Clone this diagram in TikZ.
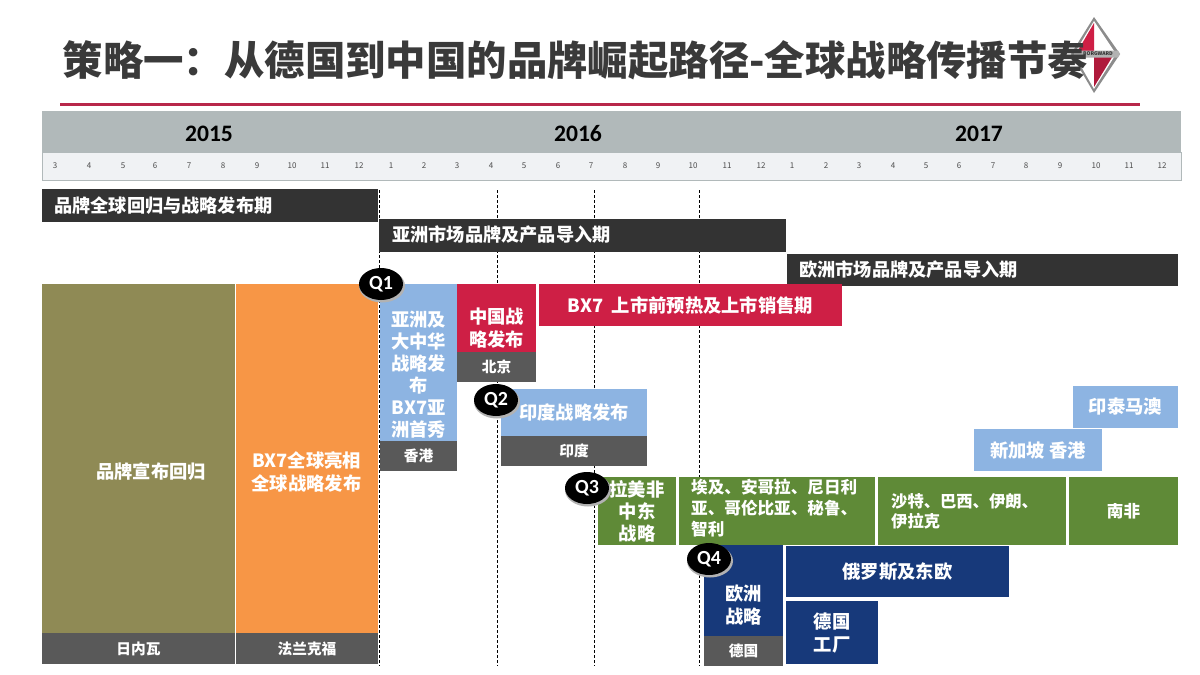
\documentclass[tikz,border=0pt]{standalone}
\usepackage{fontspec}
\setmainfont{Noto Sans CJK SC}
\newfontfamily\latinbold[Scale=1]{Carlito}
\definecolor{darkbar}{HTML}{333333}
\definecolor{footgrey}{HTML}{595959}
\definecolor{olive}{HTML}{8F8A55}
\definecolor{orangebox}{HTML}{F79646}
\definecolor{bluebox}{HTML}{8DB4E2}
\definecolor{crimson}{HTML}{CE1F45}
\definecolor{greenbox}{HTML}{5F8A37}
\definecolor{navybox}{HTML}{17397A}
\definecolor{yearband}{HTML}{B1B9BA}
\definecolor{monthband}{HTML}{F0F2F4}
\definecolor{rulered}{HTML}{B8274A}
\definecolor{titlegrey}{HTML}{3A3A3A}
\tikzset{
  box/.style={inner sep=0pt,text=white,font=\fontsize{18.3}{23}\selectfont\bfseries,align=center},
  foot/.style={box,fill=footgrey,font=\fontsize{14.7}{18}\selectfont\bfseries},
  barlabel/.style={text=white,font=\fontsize{18.2}{20}\selectfont\bfseries,anchor=west,inner sep=0pt},
  green/.style={box,fill=greenbox,font=\fontsize{16.6}{21}\selectfont\bfseries},
  month/.style={font=\fontsize{8}{9}\selectfont,text=black!70,inner sep=0pt},
  year/.style={font=\latinbold\fontsize{23.6}{24}\selectfont\bfseries,text=black,inner sep=0pt,anchor=base},
  qmark/.style={ellipse,fill=black,minimum width=44pt,minimum height=32pt,inner sep=0pt,text=white,font=\latinbold\fontsize{20}{20}\selectfont\bfseries},
  qshadow/.style={ellipse,fill=black!30,minimum width=46pt,minimum height=33pt,inner sep=0pt},
  guide/.style={densely dashed,line width=1pt,black}
}
\usetikzlibrary{shapes.geometric}
% name, x0, y0, x1, y1, style, dy, text
\newcommand{\bx}[8]{%
  \path[#6] (#2,#3) rectangle (#4,#5);
  \node[#6,fill=none,draw=none,inner sep=0pt] (#1) at ({(#2+#4)/2},{(#3+#5)/2+#7}) {#8};}
\begin{document}
\begin{tikzpicture}[x=1pt,y=-1pt]
\useasboundingbox (0,0) rectangle (1200,675);
\fill[white] (0,0) rectangle (1200,675);
\fill[rulered] (60,102.5) rectangle (1140,105.5);
% logo
\fill[black!45] (1094,17) -- (1120,54) -- (1094,93) -- (1071,54) -- cycle;
\fill[white] (1094,21) -- (1116,54) -- (1094,89) -- (1074,54) -- cycle;
\fill[crimson] (1094,23) -- (1094,54) -- (1076,54) -- cycle;
\fill[crimson!85!black] (1094,87) -- (1094,54) -- (1114,54) -- cycle;
\fill[black!30] (1074,50.5) -- (1118,50.5) -- (1120,54) -- (1118,57.5) -- (1074,57.5) -- cycle;
\node[inner sep=0pt,text=black!80,font=\fontsize{5}{6}\selectfont\bfseries] (logotext) at (1098,54) {BORGWARD};
% title
\node[anchor=west,inner sep=0pt,text=titlegrey,font=\fontsize{40.4}{44}\selectfont\bfseries] (title) at (62.5,60) {策略一：从德国到中国的品牌崛起路径-全球战略传播节奏};
% header
\fill[yearband] (42,111) rectangle (1181,152);
\draw[yearband,line width=1pt,fill=monthband] (42,152) rectangle (1181,180);
\node[year] (y15) at (209,141) {2015};
\node[year] (y16) at (578,141) {2016};
\node[year] (y17) at (979,141) {2017};
\foreach \x/\m [count=\i] in {55/3,89/4,123/5,155/6,189/7,223/8,257/9,292/10,325/11,359/12,391/1,424/2,457/3,491/4,524/5,558/6,591/7,625/8,658/9,693/10,727/11,761/12,792/1,826/2,859/3,893/4,926/5,959/6,993/7,1026/8,1060/9,1096/10,1129/11,1162/12}
  \node[month] (m\i) at (\x,166) {\m};
% guides
\foreach \x/\n in {379/a,497/b,594/c,699/d}{
  \coordinate (top\n) at (\x,190);
  \coordinate (bot\n) at (\x,666);
  \draw[guide] (top\n) -- (bot\n);
}
% phase bars
\fill[darkbar] (42,189) rectangle (378,222);
\node[barlabel] (p1) at (54,206) {品牌全球回归与战略发布期};
\fill[darkbar] (379,219) rectangle (786,252);
\node[barlabel] (p2) at (392,235) {亚洲市场品牌及产品导入期};
\fill[darkbar] (787,254) rectangle (1178,286);
\node[barlabel] (p3) at (799,270) {欧洲市场品牌及产品导入期};
% big columns
\path[fill=olive] (42,284) rectangle (235,633);
\node[box] (geneva) at (151,472) {品牌宣布回归};
\bx{genevaf}{42}{633}{235}{664}{foot}{0}{日内瓦}
\path[fill=orangebox] (236,284) rectangle (378,633);
\node[box] (bxglobal) at (306.5,472) {BX7全球亮相\\全球战略发布};
\bx{frankfurt}{236}{633}{378}{664}{foot}{0}{法兰克福}
% Q1
\bx{asia}{380}{284}{457}{441}{box,fill=bluebox,font=\fontsize{18.3}{22}\selectfont\bfseries}{12}{亚洲及\\大中华\\战略发\\布\\BX7亚\\洲首秀}
\bx{hk}{380}{441}{457}{471}{foot}{0}{香港}
\bx{china}{457}{284}{536}{352}{box,fill=crimson}{10}{中国战\\略发布}
\bx{beijing}{457}{352}{536}{382}{foot}{0}{北京}
\bx{bx7}{539}{284}{842}{326}{box,fill=crimson}{0}{BX7 ~上市前预热及上市销售期}
% Q2
\bx{india}{501}{389}{647}{436}{box,fill=bluebox}{0}{印度战略发布}
\bx{indiaf}{501}{436}{647}{466}{foot}{0}{印度}
% upper right
\bx{thai}{1073}{386}{1178}{428}{box,fill=bluebox}{0}{印泰马澳}
\bx{sg}{974}{429}{1102}{471}{box,fill=bluebox}{0}{新加坡 香港}
% Q3
\bx{latam}{598}{477}{676}{545}{box,fill=greenbox,font=\fontsize{18.3}{22}\selectfont\bfseries}{0}{拉美非\\中东\\战略}
\path[fill=greenbox] (679,477) rectangle (875,545);
\node[green,fill=none,anchor=north west,align=left] (egypt) at (691,479) {埃及、安哥拉、尼日利\\亚、哥伦比亚、秘鲁、\\智利};
\path[fill=greenbox] (878,477) rectangle (1066,545);
\node[green,fill=none,anchor=west,align=left,font=\fontsize{16.3}{20}\selectfont\bfseries] (saudi) at (891,511) {沙特、巴西、伊朗、\\伊拉克};
\bx{sa}{1069}{477}{1178}{545}{green}{0}{南非}
% Q4
\bx{europe}{704}{545}{783}{636}{box,fill=navybox}{15}{欧洲\\战略}
\bx{germany}{704}{636}{783}{666}{foot}{0}{德国}
\bx{russia}{786}{546}{1009}{597}{box,fill=navybox}{0}{俄罗斯及东欧}
\bx{plant}{786}{601}{878}{664}{box,fill=navybox}{1}{德国\\工厂}
% Q markers
\foreach \n/\x/\y in {1/381/284,2/496/400,3/587/488,4/709/559}{
  \node[qshadow] (qs\n) at (\x+1,\y+2) {};
  \node[qmark] (q\n) at (\x,\y) {\raisebox{-1.5pt}{Q\n}};
}
\end{tikzpicture}
\end{document}
